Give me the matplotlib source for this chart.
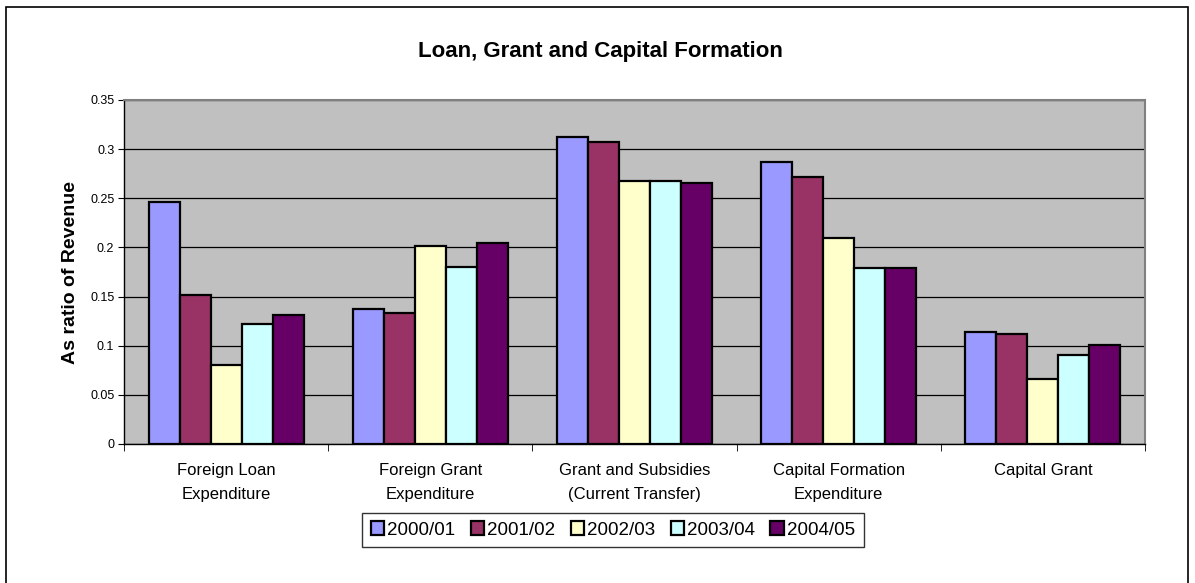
import matplotlib.pyplot as plt
import numpy as np
from matplotlib.patches import Rectangle

categories = ["Foreign Loan\nExpenditure", "Foreign Grant\nExpenditure",
              "Grant and Subsidies\n(Current Transfer)", "Capital Formation\nExpenditure",
              "Capital Grant"]
years = ["2000/01", "2001/02", "2002/03", "2003/04", "2004/05"]

v2000 = [0.246, 0.137, 0.312, 0.287, 0.114]
v2001 = [0.152, 0.133, 0.307, 0.272, 0.112]
v2002 = [0.080, 0.201, 0.268, 0.210, 0.066]
v2003 = [0.122, 0.180, 0.268, 0.179, 0.091]
v2004 = [0.131, 0.204, 0.266, 0.179, 0.101]
series = [v2000, v2001, v2002, v2003, v2004]
colors = ["#9999FF", "#993366", "#FFFFCC", "#CCFFFF", "#660066"]

plt.rcParams['font.family'] = ['Liberation Sans', 'DejaVu Sans']

fig = plt.figure(figsize=(11.95, 5.83), dpi=100)
# chart border (bottom edge runs off the picture)
fig.patches.append(Rectangle((6/1195, -0.02), 1182/1195, 1.02 - 7/583, transform=fig.transFigure,
                             fill=False, edgecolor="black", linewidth=1.2))
ax = fig.add_axes([124/1195, 1 - 444/583, (1145 - 124)/1195, 344/583])
ax.set_facecolor("#C0C0C0")

x = np.arange(len(categories))
w = 0.152
for i, (vals, c) in enumerate(zip(series, colors)):
    ax.bar(x + (i - 2) * w, vals, w, color=c, edgecolor="black", linewidth=1.6,
           label=years[i], zorder=3)

ax.set_xlim(-0.5, 4.5)
ax.set_ylim(0, 0.35)
ax.set_yticks(np.arange(0, 0.351, 0.05))
ax.set_yticklabels(["0", "0.05", "0.1", "0.15", "0.2", "0.25", "0.3", "0.35"], fontsize=9)
ax.yaxis.grid(True, color="black", linewidth=0.9, zorder=1)
ax.set_axisbelow(True)

ax.set_xticks(x)
ax.set_xticklabels(categories, fontsize=12, linespacing=1.68)
ax.tick_params(axis="x", length=0, pad=14)
ax.set_xticks(np.arange(-0.5, 5.0, 1.0), minor=True)
ax.tick_params(axis="x", which="minor", length=5, direction="out")
ax.tick_params(axis="y", length=4, direction="out", pad=3)

for s in ["top", "right"]:
    ax.spines[s].set_color("#808080")
    ax.spines[s].set_linewidth(1.5)
for s in ["left", "bottom"]:
    ax.spines[s].set_color("black")
    ax.spines[s].set_linewidth(1.0)

ax.set_ylabel("As ratio of Revenue", fontsize=14, fontweight="bold", labelpad=8)
fig.text(600/1195, 1 - 52/583, "Loan, Grant and Capital Formation", ha="center", va="center",
         fontsize=16, fontweight="bold")

leg = fig.legend(loc="center", bbox_to_anchor=(613/1195, 1 - 530/583), ncol=5, fontsize=13.5,
                 frameon=True, fancybox=False, edgecolor="black", handlelength=0.7,
                 handleheight=0.7, handletextpad=0.2, columnspacing=0.8, borderpad=0.45)
leg.get_frame().set_linewidth(1.0)

fig.savefig("out.png", dpi=100)
